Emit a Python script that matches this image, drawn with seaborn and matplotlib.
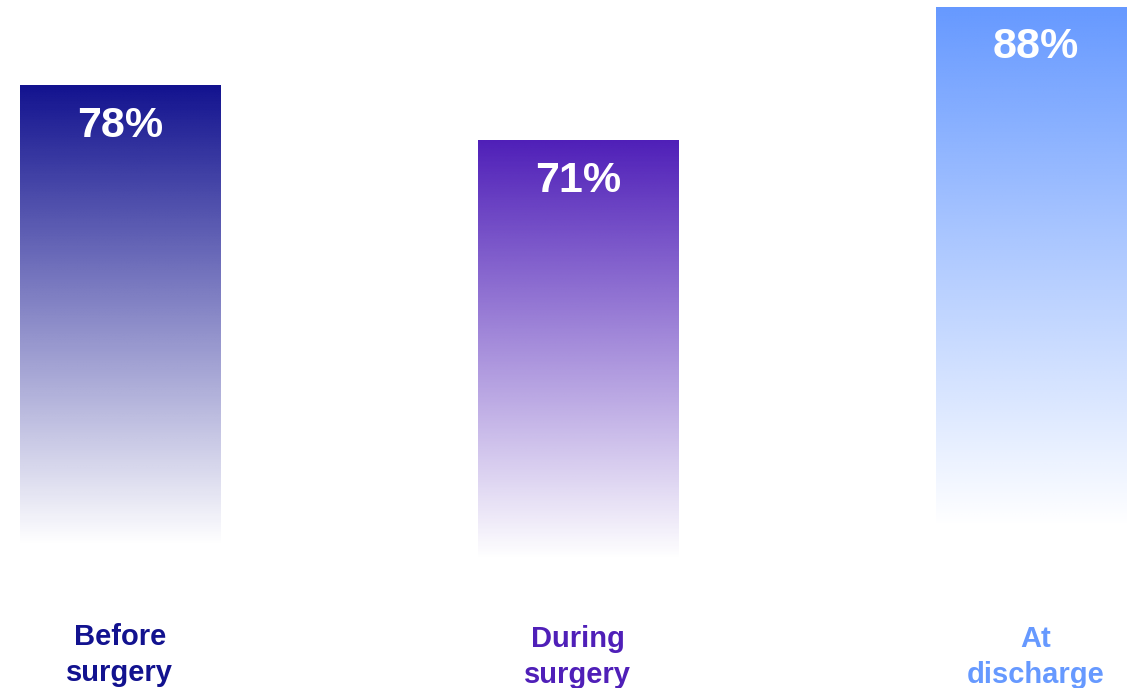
import matplotlib
matplotlib.use("Agg")
import matplotlib.pyplot as plt
import numpy as np
import pandas as pd
import seaborn as sns
from matplotlib.colors import to_rgb

categories = ["Before\nsurgery", "During\nsurgery", "At\ndischarge"]
values = [78, 71, 88]
labels = ["78%", "71%", "88%"]
colors = ["#12128f", "#4f1fb8", "#6699ff"]

sns.set_style("white")
plt.rcParams['font.family'] = ['Liberation Sans', 'DejaVu Sans']

df = pd.DataFrame({"stage": categories, "value": values})

fig = plt.figure(figsize=(11.27, 6.88), dpi=100)
ax = fig.add_axes([0, 0, 1, 1])

sns.barplot(data=df, x="stage", y="value", width=0.437, color="white", ax=ax)
ax.axis("off")

# gradient fill: full colour at the top, fading to white ~75% of the way down
fade = 0.75
for bar, col in zip(ax.patches, colors):
    x0 = bar.get_x()
    w = bar.get_width()
    h = bar.get_height()
    rgb = np.array(to_rgb(col))
    n = 256
    t = np.linspace(0, 1, n)[:, None]  # 0 = bottom, 1 = top
    a = np.clip((t - (1 - fade)) / fade, 0, 1)
    img = np.ones((n, 1, 4))
    img[:, 0, :3] = rgb
    img[:, 0, 3] = a[:, 0]
    bar.set_facecolor("none")
    bar.set_edgecolor("none")
    ax.imshow(img, extent=[x0, x0 + w, 0, h], origin="lower",
              aspect="auto", interpolation="bilinear", zorder=1)

ax.set_xlim(-0.262, 2.199)
ax.set_ylim(1.4, 88.9)

for i, (v, lab) in enumerate(zip(values, labels)):
    ax.annotate(lab, (i, v), xytext=(0, -29), textcoords="offset points",
                ha="center", va="center", color="white", fontsize=31,
                fontweight="bold", zorder=3)

label_y = [0.048, 0.045, 0.045]
for i, (cat, col) in enumerate(zip(categories, colors)):
    ax.text(i, label_y[i], cat, transform=ax.get_xaxis_transform(),
            ha="center", va="center", color=col, fontsize=21,
            fontweight="bold", linespacing=1.35, zorder=3)

plt.savefig("out.png", dpi=100)
